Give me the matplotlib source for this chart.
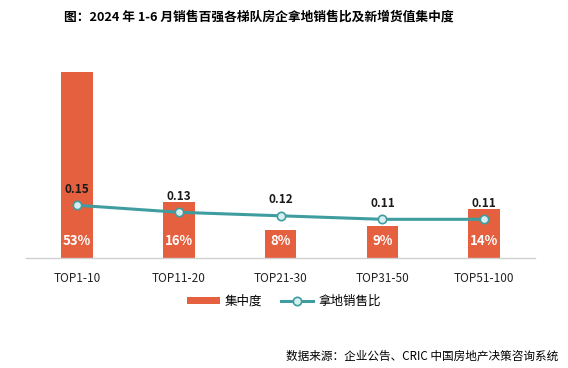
import matplotlib.pyplot as plt
import numpy as np

plt.rcParams['font.family'] = ['Noto Sans CJK SC', 'DejaVu Sans']

categories = ["TOP1-10", "TOP11-20", "TOP21-30", "TOP31-50", "TOP51-100"]
concentration = [0.53, 0.16, 0.08, 0.09, 0.14]
land_ratio = [0.15, 0.13, 0.12, 0.11, 0.11]

bar_color = "#E4603F"
line_color = "#3F9DA0"

fig = plt.figure(figsize=(5.68, 3.68), dpi=100)
ax = fig.add_axes([0.046, 0.299, 0.896, 0.573])

x = np.arange(len(categories))
bars = ax.bar(x, concentration, width=0.31, color=bar_color, label="集中度", zorder=2)
line, = ax.plot(x, land_ratio, color=line_color, lw=2.2, marker="o", markersize=6,
                markerfacecolor="#D8EFEF", markeredgecolor=line_color, markeredgewidth=1.2,
                label="拿地销售比", zorder=3)

for xi, v in zip(x, concentration):
    ax.text(xi, 0.047, f"{v*100:.0f}%", ha="center", va="center", color="white",
            fontsize=9.5, fontweight="bold", zorder=4)
for xi, v in zip(x, land_ratio):
    ax.text(xi, v + 0.046, f"{v:.2f}", ha="center", va="center", color="#1a1a1a",
            fontsize=8.5, fontweight="bold", zorder=4)

ax.set_xlim(-0.5, len(categories) - 0.5)
ax.set_ylim(0, 0.6)
ax.set_xticks(x)
ax.set_xticklabels(categories, fontsize=8.5, color="#222222")
ax.tick_params(axis="x", length=0, pad=10)
ax.set_yticks([])
for s in ["top", "right", "left"]:
    ax.spines[s].set_visible(False)
ax.spines["bottom"].set_color("#D0D0D0")
ax.spines["bottom"].set_linewidth(1)

fig.text(0.456, 0.953, "图：2024 年 1-6 月销售百强各梯队房企拿地销售比及新增货值集中度",
         ha="center", va="center", fontsize=9.2, fontweight="bold")

fig.legend([bars, line], ["集中度", "拿地销售比"], loc="center",
           bbox_to_anchor=(0.5, 0.182), ncol=2, frameon=False,
           fontsize=9, handlelength=2.6, handleheight=0.5, columnspacing=1.5,
           handletextpad=0.4)

fig.text(0.982, 0.032, "数据来源：企业公告、CRIC 中国房地产决策咨询系统",
         ha="right", va="center", fontsize=8.4)

fig.savefig("out.png", dpi=100)
